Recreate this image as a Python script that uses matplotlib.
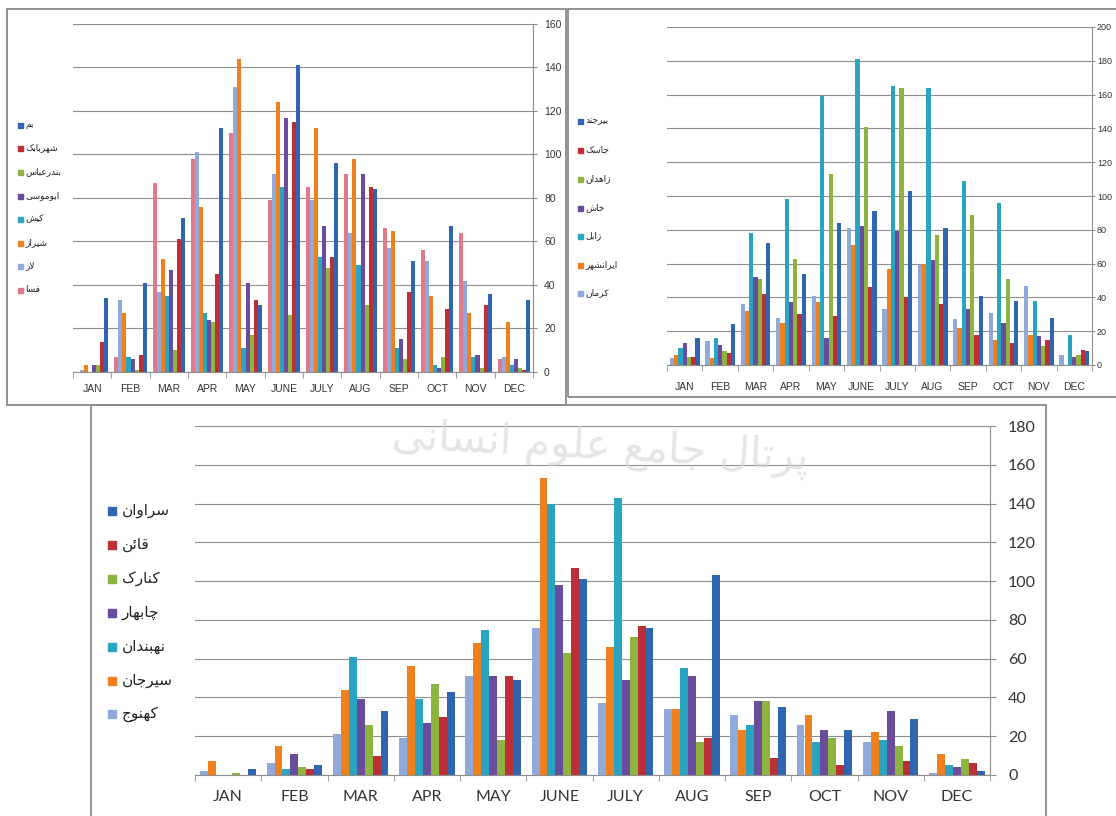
import numpy as np
import matplotlib
matplotlib.use("Agg")
import matplotlib.pyplot as plt
from matplotlib.patches import Rectangle

months = ["JAN", "FEB", "MAR", "APR", "MAY", "JUNE", "JULY", "AUG", "SEP", "OCT", "NOV", "DEC"]

# top left panel, bars left to right in each month
tl_names = ["فسا", "لار", "شیراز", "کیش", "ابوموسی", "بندرعباس", "شهربابک", "بم"]
fasa = [0, 7, 87, 98, 110, 79, 85, 91, 66, 56, 64, 6]
lar = [1, 33, 37, 101, 131, 91, 79, 64, 57, 51, 42, 7]
shiraz = [3, 27, 52, 76, 144, 124, 112, 98, 65, 35, 27, 23]
kish = [0, 7, 35, 27, 11, 85, 53, 49, 11, 3, 7, 3]
abumusa = [3, 6, 47, 24, 41, 117, 67, 91, 15, 2, 8, 6]
bandarabbas = [3, 1, 10, 23, 17, 26, 48, 31, 6, 7, 2, 2]
shahrbabak = [14, 8, 61, 45, 33, 115, 53, 85, 37, 29, 31, 1]
bam = [34, 41, 71, 112, 31, 141, 96, 84, 51, 67, 36, 33]

# top right panel
tr_names = ["کرمان", "ایرانشهر", "زابل", "خاش", "زاهدان", "جاسک", "بیرجند"]
kerman = [4, 14, 36, 28, 41, 81, 33, 59, 27, 31, 47, 6]
iranshahr = [6, 4, 32, 25, 37, 71, 57, 60, 22, 15, 18, 0]
zabol = [10, 16, 78, 98, 159, 181, 165, 164, 109, 96, 38, 18]
khash = [13, 12, 52, 37, 16, 82, 79, 62, 33, 25, 17, 5]
zahedan = [5, 8, 51, 63, 113, 141, 164, 77, 89, 51, 11, 6]
jask = [5, 7, 42, 30, 29, 46, 40, 36, 18, 13, 15, 9]
birjand = [16, 24, 72, 54, 84, 91, 103, 81, 41, 38, 28, 8]

# bottom panel
bt_names = ["کهنوج", "سیرجان", "نهبندان", "چابهار", "کنارک", "قائن", "سراوان"]
kahnuj = [2, 6, 21, 19, 51, 76, 37, 34, 31, 26, 17, 1]
sirjan = [7, 15, 44, 56, 68, 153, 66, 34, 23, 31, 22, 11]
nehbandan = [0, 3, 61, 39, 75, 140, 143, 55, 26, 17, 18, 5]
chabahar = [0, 11, 39, 27, 51, 98, 49, 51, 38, 23, 33, 4]
konarak = [1, 4, 26, 47, 18, 63, 71, 17, 38, 19, 15, 8]
ghaen = [0, 3, 10, 30, 51, 107, 77, 19, 9, 5, 7, 6]
saravan = [3, 5, 33, 43, 49, 101, 76, 103, 35, 23, 29, 2]

BLUE, RED, GREEN, PURPLE = "#2f66b0", "#bd2f36", "#8cb43f", "#6a4c9c"
TEAL, ORANGE, LBLUE, PINK = "#2aa5c1", "#f07f1e", "#8ea9da", "#e07a8a"

# simple arabic shaping: (isolated, final, initial, medial)
FORMS = {
    "ا": ("\uFE8D", "\uFE8E", None, None), "ب": ("\uFE8F", "\uFE90", "\uFE91", "\uFE92"),
    "پ": ("\uFB56", "\uFB57", "\uFB58", "\uFB59"), "ت": ("\uFE95", "\uFE96", "\uFE97", "\uFE98"),
    "ج": ("\uFE9D", "\uFE9E", "\uFE9F", "\uFEA0"), "چ": ("\uFB7A", "\uFB7B", "\uFB7C", "\uFB7D"),
    "خ": ("\uFEA5", "\uFEA6", "\uFEA7", "\uFEA8"), "د": ("\uFEA9", "\uFEAA", None, None),
    "ر": ("\uFEAD", "\uFEAE", None, None), "ز": ("\uFEAF", "\uFEB0", None, None),
    "س": ("\uFEB1", "\uFEB2", "\uFEB3", "\uFEB4"), "ش": ("\uFEB5", "\uFEB6", "\uFEB7", "\uFEB8"),
    "ع": ("\uFEC9", "\uFECA", "\uFECB", "\uFECC"), "ف": ("\uFED1", "\uFED2", "\uFED3", "\uFED4"),
    "ق": ("\uFED5", "\uFED6", "\uFED7", "\uFED8"), "ک": ("\uFB8E", "\uFB8F", "\uFB90", "\uFB91"),
    "ل": ("\uFEDD", "\uFEDE", "\uFEDF", "\uFEE0"), "م": ("\uFEE1", "\uFEE2", "\uFEE3", "\uFEE4"),
    "ن": ("\uFEE5", "\uFEE6", "\uFEE7", "\uFEE8"), "ه": ("\uFEE9", "\uFEEA", "\uFEEB", "\uFEEC"),
    "و": ("\uFEED", "\uFEEE", None, None), "ی": ("\uFBFC", "\uFBFD", "\uFBFE", "\uFBFF"),
    "ئ": ("\uFE89", "\uFE8A", "\uFE8B", "\uFE8C"),
}


def shape_word(word):
    out = []
    i = 0
    while i < len(word):
        c = word[i]
        prev = word[i - 1] if i > 0 else None
        jp = prev in FORMS and FORMS[prev][2] is not None
        if c == "ل" and i + 1 < len(word) and word[i + 1] == "ا":
            out.append("\uFEFC" if jp else "\uFEFB")
            i += 2
            continue
        nxt = word[i + 1] if i + 1 < len(word) else None
        iso, fin, ini, med = FORMS[c]
        jn = ini is not None and nxt in FORMS
        if jp and jn:
            out.append(med)
        elif jp:
            out.append(fin)
        elif jn:
            out.append(ini)
        else:
            out.append(iso)
        i += 1
    return "".join(reversed(out))


def fa(text):
    return " ".join(shape_word(w) for w in reversed(text.split()))


W, H = 1116, 816
fig = plt.figure(figsize=(W / 100, H / 100), dpi=100)


def fx(x):
    return x / W


def fy(y):
    return 1 - y / H


def panel(rect, series, colors, ymax, step, lab_fs, font, xpad, ypad, tl, yfs=None):
    ax = fig.add_axes(rect)
    n = len(series)
    x = np.arange(len(months))
    w = 0.84 / n
    for k, (vals, c) in enumerate(zip(series, colors)):
        ax.bar(x - 0.42 + w * (k + 0.5), vals, w, color=c, zorder=3, linewidth=0)
    ax.set_xlim(-0.5, 11.5)
    ax.set_ylim(0, ymax)
    ax.set_yticks(np.arange(0, ymax + 1, step))
    ax.yaxis.tick_right()
    ax.grid(axis="y", color="#8e8e8e", lw=0.8, zorder=0)
    ax.set_xticks(x)
    ax.set_xticklabels(months, family=font, fontsize=lab_fs, color="#333333")
    ax.set_xticks(np.arange(-0.5, 12, 1), minor=True)
    ax.tick_params(axis="x", which="major", length=0, pad=xpad)
    ax.tick_params(axis="x", which="minor", length=4, color="#8e8e8e")
    ax.tick_params(axis="y", length=tl, color="#8e8e8e", pad=ypad,
                   labelsize=yfs or lab_fs, labelcolor="#333333")
    for t in ax.get_yticklabels():
        t.set_family(font)
    for s in ["left", "top"]:
        ax.spines[s].set_visible(False)
    for s in ["bottom", "right"]:
        ax.spines[s].set_color("#8e8e8e")
        ax.spines[s].set_linewidth(0.8)
    ax.patch.set_alpha(0)
    return ax


def legend(names, colors, ys, mx, msize, tx, fs):
    for name, c, y in zip(names, colors, ys):
        fig.patches.append(Rectangle((fx(mx), fy(y + msize / 2)), fx(msize), msize / H,
                                     transform=fig.transFigure, color=c, figure=fig))
        fig.text(fx(tx), fy(y), fa(name), fontsize=fs, family="DejaVu Sans",
                 va="center", ha="left", color="#222222")


# frames around the three panels
for x0, y0, x1, y1 in [(7, 9, 566, 405), (568, 9, 1130, 397), (91, 405, 1046, 830)]:
    fig.patches.append(Rectangle((fx(x0), fy(y1)), fx(x1 - x0), (y1 - y0) / H, transform=fig.transFigure,
                                 fill=False, edgecolor="#8a8a8a", lw=1.3, figure=fig))

arial = ["Liberation Sans", "DejaVu Sans"]

tl_cols = [PINK, LBLUE, ORANGE, TEAL, PURPLE, GREEN, RED, BLUE]
panel([fx(73), fy(372), fx(460), 348 / H],
      [fasa, lar, shiraz, kish, abumusa, bandarabbas, shahrbabak, bam],
      tl_cols, 160, 20, 7.5, arial, 9, 5, 3)
legend(tl_names[::-1], tl_cols[::-1], [125, 148, 172, 196, 219, 243, 266, 290], 18, 5, 25, 6.5)

tr_cols = [LBLUE, ORANGE, TEAL, PURPLE, GREEN, RED, BLUE]
panel([fx(667), fy(365), fx(425), 338 / H],
      [kerman, iranshahr, zabol, khash, zahedan, jask, birjand],
      tr_cols, 200, 20, 7.5, arial, 12, 1.5, 2, yfs=6.5)
legend(tr_names[::-1], tr_cols[::-1], [121, 150, 179, 208, 236, 265, 293], 578, 5, 585, 6.5)

bt_cols = [LBLUE, ORANGE, TEAL, PURPLE, GREEN, RED, BLUE]
panel([fx(195), fy(775), fx(795), 349 / H],
      [kahnuj, sirjan, nehbandan, chabahar, konarak, ghaen, saravan],
      bt_cols, 180, 20, 11.5, ["Lato", "DejaVu Sans"], 11, 9, 4)
legend(bt_names[::-1], bt_cols[::-1], [511, 545, 579, 613, 647, 681, 714], 108, 8, 122, 11)

# faint watermark
fig.text(fx(600), fy(448), fa("پرتال جامع علوم انسانی"), fontsize=30, family="DejaVu Sans",
         color="#d4d4d4", alpha=0.6, ha="center", va="center", rotation=-3, zorder=10)

fig.savefig("out.png", dpi=100)
